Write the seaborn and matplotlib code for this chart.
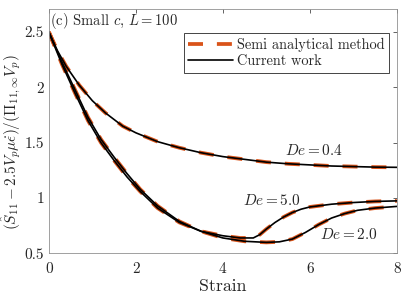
import matplotlib
matplotlib.use("Agg")
import matplotlib.pyplot as plt
import seaborn as sns
import pandas as pd

# values
strain_04 = [0, 0.2, 0.4, 0.7, 1.0, 1.3, 1.7, 2.0, 2.5, 3.0, 3.5, 4.0, 4.5, 5.0, 5.5, 6.0, 6.5, 7.0, 7.5, 8.0]
stress_04 = [2.50, 2.33, 2.19, 2.02, 1.88, 1.77, 1.65, 1.59, 1.51, 1.455, 1.41, 1.375, 1.35, 1.325, 1.31, 1.30, 1.29, 1.285, 1.28, 1.278]

strain_20 = [0, 0.3, 0.6, 0.9, 1.2, 1.5, 1.8, 2.1, 2.5, 3.0, 3.5, 4.0, 4.5, 5.0, 5.3, 5.6, 5.9, 6.2, 6.5, 6.8, 7.1, 7.5, 8.0]
stress_20 = [2.50, 2.23, 1.98, 1.73, 1.53, 1.37, 1.22, 1.08, 0.93, 0.79, 0.70, 0.64, 0.61, 0.60, 0.605, 0.63, 0.69, 0.76, 0.82, 0.86, 0.89, 0.91, 0.925]

strain_50 = [0, 0.3, 0.6, 0.9, 1.2, 1.5, 1.8, 2.1, 2.5, 3.0, 3.5, 4.0, 4.4, 4.7, 4.85, 5.0, 5.2, 5.4, 5.6, 5.8, 6.0, 6.5, 7.0, 7.5, 8.0]
stress_50 = [2.50, 2.21, 1.95, 1.70, 1.50, 1.34, 1.19, 1.06, 0.91, 0.78, 0.70, 0.66, 0.64, 0.64, 0.67, 0.72, 0.78, 0.83, 0.87, 0.90, 0.92, 0.945, 0.96, 0.97, 0.975]

curves = [(strain_04, stress_04), (strain_20, stress_20), (strain_50, stress_50)]

de_labels = ["$De = 0.4$", "$De = 5.0$", "$De = 2.0$"]
de_label_pos = [(5.43, 1.428), (4.46, 0.974), (6.23, 0.667)]

xticks = [0, 2, 4, 6, 8]
yticks = [0.5, 1, 1.5, 2, 2.5]
ytick_labels = ["0.5", "1", "1.5", "2", "2.5"]

ORANGE = "#D95319"
DASH = (10.8, 10)

sns.set_theme(style="white")
plt.rcParams["font.family"] = ["serif"]
plt.rcParams["font.serif"] = ["cmr10"]
plt.rcParams["mathtext.fontset"] = "cm"
plt.rcParams["lines.scale_dashes"] = False

fig = plt.figure(figsize=(4.07, 3.05), dpi=100)
ax = fig.add_axes([0.120, 0.169, 0.855, 0.801])

# semi analytical (dashed) first, current work (solid) on top
for i, (x, y) in enumerate(curves):
    df = pd.DataFrame({"strain": x, "stress": y})
    sns.lineplot(data=df, x="strain", y="stress", ax=ax, color=ORANGE, linewidth=2.7,
                 label="Semi analytical method" if i == 0 else None)
    ax.lines[-1].set_dashes(DASH)
for i, (x, y) in enumerate(curves):
    df = pd.DataFrame({"strain": x, "stress": y})
    sns.lineplot(data=df, x="strain", y="stress", ax=ax, color="black", linewidth=1.2,
                 label="Current work" if i == 0 else None)

for text, (tx, ty) in zip(de_labels, de_label_pos):
    ax.text(tx, ty, text, fontsize=11, va="center", ha="left")

ax.text(0.03, 2.60, "(c) Small $c$, $L = 100$", fontsize=10.5, va="center", ha="left")

ax.set_xlim(0, 8)
ax.set_ylim(0.5, 2.707)
ax.set_xticks(xticks)
ax.set_yticks(yticks)
ax.set_yticklabels(ytick_labels)
ax.tick_params(direction="in", top=True, right=True, length=3, width=0.5,
               labelsize=11, color="#262626", labelcolor="#262626")
ax.tick_params(axis="x", pad=6)
ax.tick_params(axis="y", pad=3.5)
for s in ax.spines.values():
    s.set_color("#909090")
    s.set_linewidth(0.6)

ax.set_xlabel("Strain", fontsize=12.8, color="#262626")
ax.set_ylabel(r"$(\hat{S}_{11} - 2.5V_p\mu\dot{\epsilon})/(\Pi_{11,\infty}V_p)$", fontsize=11,
              color="#262626")
ax.xaxis.set_label_coords(0.5, -0.104)
ax.yaxis.set_label_coords(-0.0735, 0.454)

leg = ax.legend(loc="upper right", bbox_to_anchor=(0.977, 0.902), borderaxespad=0,
                fontsize=10.4, handlelength=3.1, borderpad=0.3, labelspacing=0.2,
                handletextpad=0.28, fancybox=False, framealpha=1, edgecolor="#262626")
leg.get_frame().set_linewidth(0.6)
leg.get_lines()[0].set_dashes(DASH)

fig.savefig("out.png", dpi=100)
